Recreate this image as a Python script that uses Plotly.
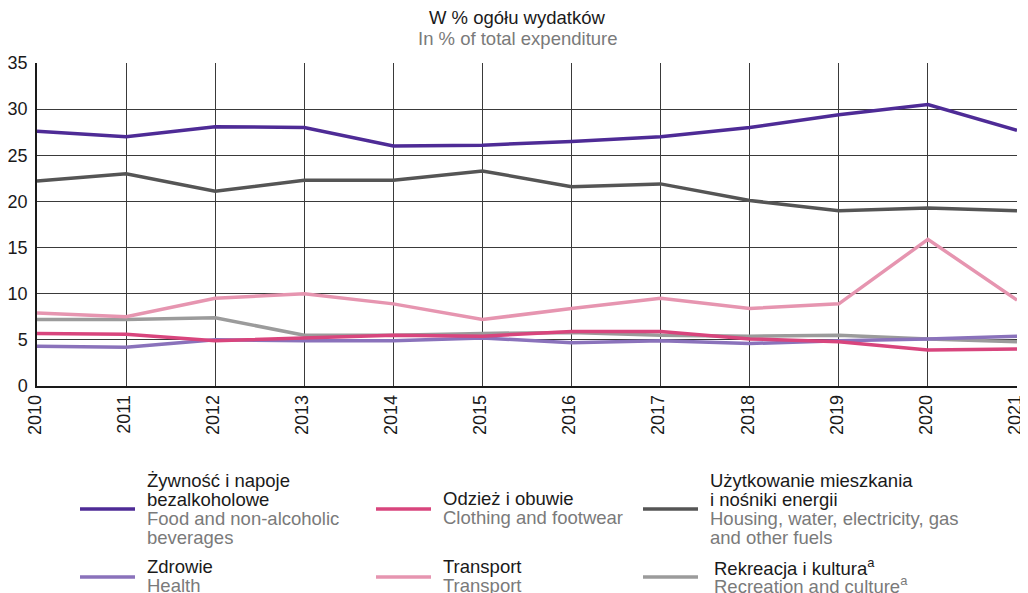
import plotly.graph_objects as go

years = list(range(2010, 2022))

food = [27.6, 27.0, 28.1, 28.0, 26.0, 26.1, 26.5, 27.0, 28.0, 29.4, 30.5, 27.7]
housing = [22.2, 23.0, 21.1, 22.3, 22.3, 23.3, 21.6, 21.9, 20.1, 19.0, 19.3, 19.0]
transport = [7.9, 7.5, 9.5, 10.0, 8.9, 7.2, 8.4, 9.5, 8.4, 8.9, 15.9, 9.3]
recreation = [7.2, 7.2, 7.4, 5.5, 5.5, 5.7, 5.8, 5.5, 5.4, 5.5, 5.1, 4.8]
clothing = [5.7, 5.6, 4.9, 5.2, 5.5, 5.4, 5.9, 5.9, 5.1, 4.8, 3.9, 4.0]
health = [4.3, 4.2, 5.0, 4.9, 4.9, 5.2, 4.7, 4.9, 4.6, 4.9, 5.1, 5.4]

y_ticks = [0, 5, 10, 15, 20, 25, 30, 35]

FONT = "Liberation Sans, Arial, sans-serif"
GREY_TEXT = "#7a7a7a"

# kolejność rysowania (od spodu)
series = [
    ("recreation", recreation, "#9b9b9b"),
    ("health", health, "#8a72bb"),
    ("clothing", clothing, "#d8457d"),
    ("transport", transport, "#e695b0"),
    ("housing", housing, "#555555"),
    ("food", food, "#4e2b96"),
]

# legenda: (kolor, linie PL, linie EN, kolumna, wiersz)
legend_items = [
    ("#4e2b96", ["Żywność i napoje", "bezalkoholowe"], ["Food and non-alcoholic", "beverages"], 0, 0),
    ("#d8457d", ["Odzież i obuwie"], ["Clothing and footwear"], 1, 0),
    ("#555555", ["Użytkowanie mieszkania", "i nośniki energii"], ["Housing, water, electricity, gas", "and other fuels"], 2, 0),
    ("#8a72bb", ["Zdrowie"], ["Health"], 0, 1),
    ("#e695b0", ["Transport"], ["Transport"], 1, 1),
    ("#9b9b9b", ["Rekreacja i kultura<sup>a</sup>"], ["Recreation and culture<sup>a</sup>"], 2, 1),
]

# strona ma 8 px marginesu body, więc figura jest mniejsza o 8 px
OFF = 8
W, H = 1028 - OFF, 593 - OFF
L, R, T, B = 37 - OFF, 11, 63 - OFF, 207
PW, PH = W - L - R, H - T - B


def px_x(x):
    return (x - OFF - L) / PW


def px_y(y):
    return (H - B - (y - OFF)) / PH


fig = go.Figure()

for name, vals, color in series:
    fig.add_trace(go.Scatter(
        x=years,
        y=vals,
        mode="lines",
        name=name,
        line=dict(color=color, width=3.5),
        hoverinfo="x+y",
    ))

# legenda ręczna
col_sym_x = [80, 376, 643]
row_sym_y = [509, 577]
line_h = 18.7

shapes = []
annotations = []
for color, pl, en, col, row in legend_items:
    x0 = col_sym_x[col]
    yc = row_sym_y[row]
    shapes.append(dict(
        type="line", xref="paper", yref="paper",
        x0=px_x(x0), x1=px_x(x0 + 55), y0=px_y(yc), y1=px_y(yc),
        line=dict(color=color, width=3.5),
    ))
    lines = [(t, "#1a1a1a") for t in pl] + [(t, GREY_TEXT) for t in en]
    n = len(lines)
    tx = x0 + 65 + (4 if col == 2 and row == 1 else 0)
    for i, (txt, c) in enumerate(lines):
        ly = yc + (i - (n - 1) / 2) * line_h
        if n == 2:
            ly -= 1
        annotations.append(dict(
            text=txt, xref="paper", yref="paper",
            x=px_x(tx), y=px_y(ly), xanchor="left", yanchor="middle",
            showarrow=False, font=dict(size=18.5, color=c, family=FONT),
        ))

# tytuł
annotations.append(dict(
    text="W % ogółu wydatków", xref="paper", yref="paper",
    x=px_x(517), y=px_y(18), xanchor="center", yanchor="middle",
    showarrow=False, font=dict(size=18.5, color="#1a1a1a", family=FONT),
))
annotations.append(dict(
    text="In % of total expenditure", xref="paper", yref="paper",
    x=px_x(518), y=px_y(38), xanchor="center", yanchor="middle",
    showarrow=False, font=dict(size=18.5, color=GREY_TEXT, family=FONT),
))

fig.update_layout(
    width=W,
    height=H,
    margin=dict(l=L, r=R, t=T, b=B, pad=0),
    showlegend=False,
    plot_bgcolor="white",
    paper_bgcolor="white",
    font=dict(family=FONT, size=18, color="#1a1a1a"),
    shapes=shapes,
    annotations=annotations,
)

fig.update_xaxes(
    range=[2010, 2021],
    tickmode="array",
    tickvals=years,
    ticktext=[str(y) for y in years],
    tickangle=-90,
    showgrid=True,
    gridcolor="#3a3a3a",
    gridwidth=1,
    showline=True,
    linecolor="#1a1a1a",
    linewidth=1.5,
    zeroline=False,
    ticks="",
    automargin=False,
    ticklabelshift=-2,
    tickfont=dict(size=18),
)

fig.update_yaxes(
    range=[0, 35],
    tickmode="array",
    tickvals=y_ticks,
    showgrid=True,
    gridcolor="#3a3a3a",
    gridwidth=1,
    showline=True,
    linecolor="#1a1a1a",
    linewidth=1.5,
    zeroline=False,
    ticks="",
    ticklabelstandoff=4,
    automargin=False,
    tickfont=dict(size=18),
)

fig.write_html("out.html")
